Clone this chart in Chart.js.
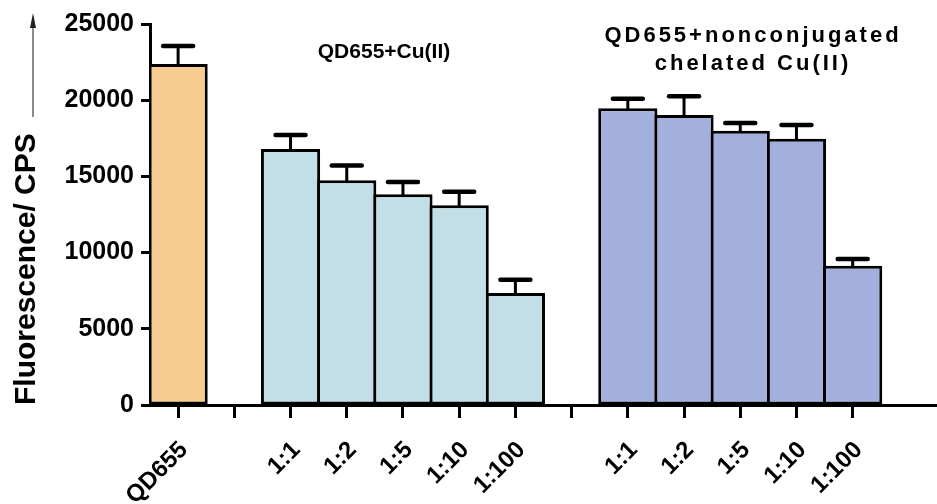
<!DOCTYPE html>
<html>
<head>
<meta charset="utf-8">
<script src="https://cdn.jsdelivr.net/npm/chart.js@4.4.1/dist/chart.umd.min.js"></script>
<style>
  body { margin: 0; background: #fff; }
  #wrap { width: 937px; height: 504px; }
</style>
</head>
<body>
<div id="wrap"><canvas id="myChart"></canvas></div>
<script>
// categories (empty strings are the gaps between groups)
const labels = ['QD655', '', '1:1', '1:2', '1:5', '1:10', '1:100', '', '1:1', '1:2', '1:5', '1:10', '1:100', ''];
// mean fluorescence (CPS)
const values = [22380, null, 16800, 14750, 13830, 13100, 7350, null, 19470, 19030, 18000, 17470, 9140, null];
// upper error (SD)
const errors = [1180, null, 920, 960, 810, 890, 870, null, 630, 1230, 500, 900, 440, null];
const yTicks = [0, 5000, 10000, 15000, 20000, 25000];

const orange = '#f6cc90'
const lightBlue = '#c2dee6'
const lavender = '#a3b0dd'
const barColors = [orange, null, lightBlue, lightBlue, lightBlue, lightBlue, lightBlue, null,
  lavender, lavender, lavender, lavender, lavender, null];

const fontFam = '"Liberation Sans", Arial, sans-serif';

// error bars on top of each bar
const errorBars = {
  id: 'errorBars',
  afterDatasetsDraw(chart) {
    const { ctx } = chart;
    const yScale = chart.scales.y;
    const meta = chart.getDatasetMeta(0);
    ctx.save();
    ctx.strokeStyle = '#000';
    ctx.lineCap = 'round';
    meta.data.forEach((bar, i) => {
      if (values[i] == null) return;
      const yTop = yScale.getPixelForValue(values[i] + errors[i]);
      ctx.lineWidth = 3;
      ctx.beginPath();
      ctx.moveTo(bar.x, bar.y);
      ctx.lineTo(bar.x, yTop);
      ctx.stroke();
      ctx.lineWidth = 4.5;
      ctx.beginPath();
      ctx.moveTo(bar.x - 15, yTop);
      ctx.lineTo(bar.x + 15, yTop);
      ctx.stroke();
    });
    ctx.restore();
  }
};

// group titles and the arrow next to the y title
const extras = {
  id: 'extras',
  afterDraw(chart) {
    const { ctx } = chart;
    ctx.save();
    ctx.fillStyle = '#000';
    ctx.textAlign = 'center';
    ctx.textBaseline = 'alphabetic';
    ctx.font = 'bold 21px ' + fontFam;
    ctx.fillText('QD655+Cu(II)', 384, 58);
    ctx.font = 'bold 22px ' + fontFam;
    ctx.letterSpacing = '3px';
    ctx.fillText('QD655+nonconjugated', 753, 42);
    ctx.fillText('chelated Cu(II)', 753, 70);
    ctx.letterSpacing = '0px';

    // arrow
    ctx.strokeStyle = '#666';
    ctx.lineWidth = 1.5;
    ctx.beginPath();
    ctx.moveTo(33, 117);
    ctx.lineTo(33, 22);
    ctx.stroke();
    ctx.fillStyle = '#222';
    ctx.beginPath();
    ctx.moveTo(33, 13);
    ctx.lineTo(30, 28);
    ctx.lineTo(36, 28);
    ctx.closePath();
    ctx.fill();
    ctx.restore();
  }
};

const ctx = document.querySelector('#myChart').getContext('2d');

const config = {
  type: 'bar',
  data: {
    labels,
    datasets: [{
      data: values,
      backgroundColor: barColors,
      borderColor: '#000',
      borderWidth: 3,
      borderSkipped: false,
      barPercentage: 1.053,
      categoryPercentage: 1
    }]
  },
  plugins: [errorBars, extras],
  options: {
    responsive: true,
    maintainAspectRatio: false,
    animation: false,
    layout: { padding: { top: 24, right: 0, left: 0, bottom: 0 } },
    plugins: {
      legend: { display: false },
      tooltip: { enabled: false }
    },
    scales: {
      x: {
        offset: true,
        grid: {
          display: true,
          offset: false,
          drawOnChartArea: false,
          drawTicks: true,
          tickLength: 13,
          tickWidth: 3,
          tickColor: (c) => c.index === labels.length - 1 ? 'rgba(0,0,0,0)' : '#000'
        },
        border: { display: true, width: 3, color: '#000' },
        ticks: {
          autoSkip: false,
          maxRotation: 45,
          minRotation: 45,
          padding: 18,
          labelOffset: 6,
          color: '#000',
          font: { family: fontFam, size: 24, weight: 'bold' }
        },
        afterFit(scale) {
          scale.height = 99;
          scale.paddingLeft = 0;
          scale.paddingRight = 0;
        }
      },
      y: {
        min: 0,
        max: 25000,
        afterBuildTicks(scale) { scale.ticks = yTicks.map(v => ({ value: v })); },
        grid: {
          display: true,
          drawOnChartArea: false,
          drawTicks: true,
          tickLength: 9,
          tickWidth: 3,
          tickColor: '#000'
        },
        border: { display: true, width: 3, color: '#000' },
        ticks: {
          padding: 7,
          color: '#000',
          font: { family: fontFam, size: 25, weight: 'bold' },
          callback: (v) => String(v)
        },
        title: {
          display: true,
          text: 'Fluorescence/ CPS',
          align: 'start',
          color: '#000',
          padding: { top: 9, bottom: 0 },
          font: { family: fontFam, size: 30, weight: 'bold' }
        },
        afterFit(scale) { scale.width = 150; }
      }
    }
  }
};

const myChart = new Chart(ctx, config);
</script>
</body>
</html>
